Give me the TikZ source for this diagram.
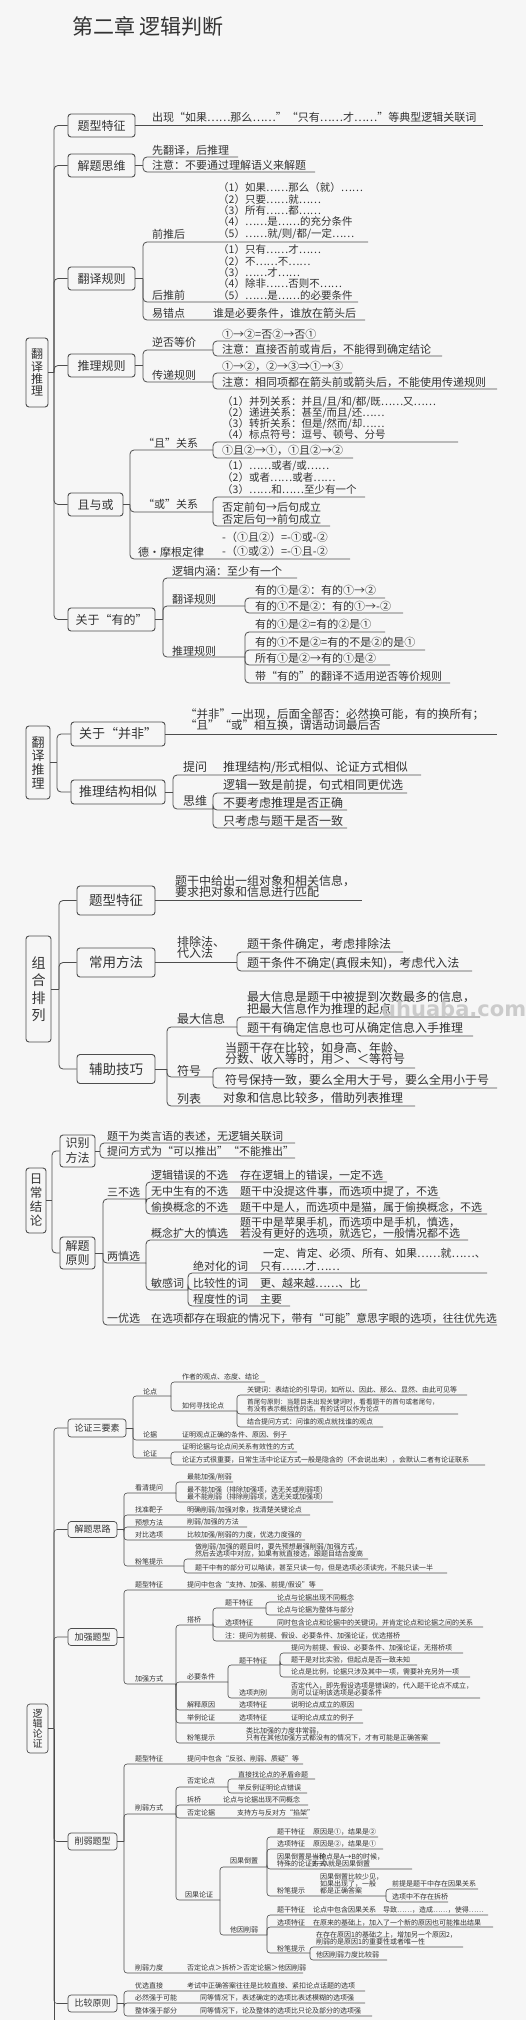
\documentclass[tikz,border=0pt]{standalone}
\usepackage{fontspec}
\setmainfont{Noto Sans CJK SC}
\newfontfamily\wmfont{DejaVu Sans}
\definecolor{bgc}{HTML}{F6F6F6}
\definecolor{ink}{HTML}{333333}
\definecolor{lc}{HTML}{4D4D4D}
\definecolor{wmc}{HTML}{C4C4C4}
\newcounter{mmn}
\newcommand\curfont{\fontsize{11}{11}\selectfont}
\newcommand\mmT[3]{\stepcounter{mmn}\node[tx] (n\arabic{mmn}) at (#1,#2) {#3};}
\newcommand\mmU[3]{\draw[ln] (#1) |- (#3,#2);}
\newcommand\mmJ[3]{\coordinate (#1) at (#2,#3);}
\tikzset{
 tx/.style={anchor=west,inner sep=0pt,text=ink,font=\curfont},
 ln/.style={draw=lc,line width=0.8pt,rounded corners=4pt},
 box/.style={draw=lc,line width=0.9pt,rounded corners=3pt,fill=bgc,text=ink,inner sep=0pt,align=center},
}
\begin{document}
\begin{tikzpicture}[x=1pt,y=-1pt]
\fill[bgc] (0,0) rectangle (526,2020);
\useasboundingbox (0,0) rectangle (526,2020);
\node[anchor=west,inner sep=0pt,text=ink,font=\fontsize{21}{21}\selectfont] (title) at (72,26) {第二章 逻辑判断};

% ================= Section 1
\node[box,minimum width=22pt,minimum height=69pt,font=\fontsize{12}{12.3}\selectfont] (R1) at (37,372.5) {翻\\译\\推\\理};
\node[box,minimum width=67pt,minimum height=23pt,font=\fontsize{12}{12}\selectfont] (B1) at (101.5,125.5) {题型特征};
\node[box,minimum width=67pt,minimum height=23pt,font=\fontsize{12}{12}\selectfont] (B2) at (101.5,165.5) {解题思维};
\node[box,minimum width=67pt,minimum height=23pt,font=\fontsize{12}{12}\selectfont] (B3) at (101.5,278.5) {翻译规则};
\node[box,minimum width=67pt,minimum height=23pt,font=\fontsize{12}{12}\selectfont] (B4) at (101.5,365.5) {推理规则};
\node[box,minimum width=55pt,minimum height=23pt,font=\fontsize{12}{12}\selectfont] (B5) at (95.5,504.5) {且与或};
\node[box,minimum width=87pt,minimum height=23pt,font=\fontsize{12}{12}\selectfont] (B6) at (111.5,619.5) {关于“有的”};
\mmJ{t1}{54}{372.5}
\draw[ln] (R1.east) -- (t1);
\foreach \b in {B1,B2,B3,B4,B5,B6} {\draw[ln] (t1) |- (\b.west);}

\draw[ln] (B1.east) -- (483,125.5);
\mmT{152}{117}{出现“如果……那么……”“只有……才……”等典型逻辑关联词}

\mmJ{j2}{143}{165.5}\draw[ln] (B2.east) -- (j2);
\mmU{j2}{157}{238}\mmT{152}{150}{先翻译，后推理}
\mmU{j2}{172}{315}\mmT{152}{165.5}{注意：不要通过理解语义来解题}

\mmJ{j3}{143}{278.5}\draw[ln] (B3.east) -- (j3);
\mmU{j3}{242}{368}\mmT{152}{234}{前推后}
\renewcommand\curfont{\fontsize{10.5}{10.5}\selectfont}
\mmT{218}{188}{（1）如果……那么（就）……}
\mmT{218}{200}{（2）只要……就……}
\mmT{218}{211}{（3）所有……都……}
\mmT{218}{222}{（4）……是……的充分条件}
\mmT{218}{233.5}{（5）……就/则/都/一定……}
\mmT{218}{250}{（1）只有……才……}
\mmT{218}{262}{（2）不……不……}
\mmT{218}{273}{（3）……才……}
\mmT{218}{284}{（4）除非……否则不……}
\mmT{218}{295.5}{（5）……是……的必要条件}
\renewcommand\curfont{\fontsize{11}{11}\selectfont}
\mmU{j3}{302}{358}\mmT{152}{295.5}{后推前}
\mmU{j3}{320}{365}\mmT{152}{313}{易错点}\mmT{213}{313}{谁是必要条件，谁放在箭头后}

\mmJ{j4}{143}{365.5}\draw[ln] (B4.east) -- (j4);
\mmU{j4}{350}{213}\mmT{152}{342}{逆否等价}
\mmJ{k1}{213}{350}
\mmU{k1}{341}{320}\mmT{222}{334}{①→②=否②→否①}
\mmU{k1}{356}{442}\mmT{222}{349}{注意：直接否前或肯后，不能得到确定结论}
\mmU{j4}{382}{213}\mmT{152}{375}{传递规则}
\mmJ{k2}{213}{382}
\mmU{k2}{373}{352}\mmT{222}{366}{①→②，②→③⇒①→③}
\mmU{k2}{389}{497}\mmT{222}{382}{注意：相同项都在箭头前或箭头后，不能使用传递规则}

\mmJ{j5}{130}{504.5}\draw[ln] (B5.east) -- (j5);
\mmU{j5}{450}{213}\mmT{143}{443}{“且”关系}
\mmJ{k3}{213}{450}
\renewcommand\curfont{\fontsize{10.5}{10.5}\selectfont}
\mmT{222}{402}{（1）并列关系：并且/且/和/都/既……又……}
\mmT{222}{412.5}{（2）递进关系：甚至/而且/还……}
\mmT{222}{423.5}{（3）转折关系：但是/然而/却……}
\mmT{222}{434.5}{（4）标点符号：逗号、顿号、分号}
\mmT{222}{466}{（1）……或者/或……}
\mmT{222}{478}{（2）或者……或者……}
\mmT{222}{489.5}{（3）……和……至少有一个}
\renewcommand\curfont{\fontsize{11}{11}\selectfont}
\mmU{k3}{442}{458}
\mmU{k3}{458}{353}\mmT{222}{450.5}{①且②→①，①且②→②}
\mmU{j5}{512}{213}\mmT{143}{504}{“或”关系}
\mmJ{k4}{213}{512}
\mmU{k4}{497}{365}
\mmU{k4}{526}{330}\mmT{222}{507}{否定前句→后句成立}\mmT{222}{519.5}{否定后句→前句成立}
\mmU{j5}{559}{350}\mmT{138}{552}{德·摩根定律}
\mmT{222}{537}{-（①且②）=-①或-②}\mmT{222}{551}{-（①或②）=-①且-②}

\mmJ{j6}{163}{619.5}\draw[ln] (B6.east) -- (j6);
\mmU{j6}{578}{297}\mmT{172}{571}{逻辑内涵：至少有一个}
\mmU{j6}{606}{245}\mmT{172}{599}{翻译规则}
\mmJ{k5}{245}{606}
\mmU{k5}{598}{385}\mmT{255}{590}{有的①是②：有的①→②}
\mmU{k5}{613}{403}\mmT{255}{606}{有的①不是②：有的①→-②}
\mmU{j6}{657}{245}\mmT{172}{651}{推理规则}
\mmJ{k6}{245}{657}
\mmU{k6}{632}{385}\mmT{255}{624}{有的①是②=有的②是①}
\mmU{k6}{650}{425}\mmT{255}{642}{有的①不是②=有的不是②的是①}
\mmU{k6}{665}{390}\mmT{255}{658.5}{所有①是②→有的①是②}
\mmU{k6}{683}{450}\mmT{255}{676}{带“有的”的翻译不适用逆否等价规则}

% ================= Section 2
\node[box,minimum width=24pt,minimum height=73pt,font=\fontsize{13}{13.7}\selectfont] (R2) at (38,762.5) {翻\\译\\推\\理};
\node[box,minimum width=94pt,minimum height=24pt,font=\fontsize{13}{13}\selectfont] (B7) at (118,734) {关于“并非”};
\node[box,minimum width=94pt,minimum height=24pt,font=\fontsize{13}{13}\selectfont] (B8) at (118,792) {推理结构相似};
\mmJ{t2}{57}{762.5}
\draw[ln] (R2.east) -- (t2);
\draw[ln] (t2) |- (B7.west);
\draw[ln] (t2) |- (B8.west);
\renewcommand\curfont{\fontsize{11.5}{11.5}\selectfont}
\draw[ln] (B7.east) -- (497,734);
\mmT{185}{714.5}{“并非”一出现，后面全部否：必然换可能，有的换所有；}
\mmT{185}{725.5}{“且”“或”相互换，谓语动词最后否}
\renewcommand\curfont{\fontsize{12}{12}\selectfont}
\mmJ{j8}{173}{792}\draw[ln] (B8.east) -- (j8);
\mmU{j8}{775}{421}\mmT{183}{767}{提问}\mmT{223}{767}{推理结构/形式相似、论证方式相似}
\mmU{j8}{809}{213}\mmT{183}{801}{思维}
\mmJ{k7}{213}{809}
\mmU{k7}{793}{407}\mmT{223}{785.5}{逻辑一致是前提，句式相同更优选}
\mmU{k7}{810}{347}\mmT{223}{802.5}{不要考虑推理是否正确}
\mmU{k7}{828}{347}\mmT{223}{820.5}{只考虑与题干是否一致}

% ================= Section 3
\node[box,minimum width=25pt,minimum height=106pt,font=\fontsize{14}{17.5}\selectfont] (R3) at (38.5,989) {组\\合\\排\\列};
\node[box,minimum width=78pt,minimum height=29pt,font=\fontsize{13.5}{13.5}\selectfont] (B9) at (116,900.5) {题型特征};
\node[box,minimum width=78pt,minimum height=29pt,font=\fontsize{13.5}{13.5}\selectfont] (B10) at (116,962.5) {常用方法};
\node[box,minimum width=78pt,minimum height=29pt,font=\fontsize{13.5}{13.5}\selectfont] (B11) at (116,1069) {辅助技巧};
\mmJ{t3}{59}{989}
\draw[ln] (R3.east) -- (t3);
\foreach \b in {B9,B10,B11} {\draw[ln] (t3) |- (\b.west);}
\draw[ln] (B9.east) -- (362,900.5);
\mmT{175}{881}{题干中给出一组对象和相关信息，}
\mmT{175}{892}{要求把对象和信息进行匹配}
\mmJ{j10}{237}{962.5}\draw[ln] (B10.east) -- (j10);
\mmT{177}{942}{排除法、}\mmT{177}{953}{代入法}
\mmU{j10}{952}{403}\mmT{247}{944}{题干条件确定，考虑排除法}
\mmU{j10}{971}{472}\mmT{247}{963.5}{题干条件不确定(真假未知)，考虑代入法}
\mmJ{j11}{167}{1069}\draw[ln] (B11.east) -- (j11);
\mmU{j11}{1027}{237}\mmT{177}{1019}{最大信息}
\mmJ{k8}{237}{1027}
\mmU{k8}{1017}{480}\mmT{247}{997}{最大信息是题干中被提到次数最多的信息，}\mmT{247}{1008.5}{把最大信息作为推理的起点}
\mmU{k8}{1036}{473}\mmT{247}{1028}{题干有确定信息也可从确定信息入手推理}
\mmU{j11}{1077}{213}\mmT{177}{1070.5}{符号}
\mmJ{k9}{213}{1077}
\mmU{k9}{1068}{415}\mmT{225}{1048}{当题干存在比较，如身高、年龄、}\mmT{225}{1059.5}{分数、收入等时，用＞、＜等符号}
\mmU{k9}{1088}{497}\mmT{225}{1080.5}{符号保持一致，要么全用大于号，要么全用小于号}
\mmU{j11}{1106}{415}\mmT{177}{1098.5}{列表}\mmT{223}{1098.5}{对象和信息比较多，借助列表推理}
\node[anchor=west,inner sep=0pt,text=wmc,opacity=0.85,font=\wmfont\bfseries\fontsize{21}{21}\selectfont] (wm) at (381,1009) {uhuaba.com};

% ================= Section 4
\renewcommand\curfont{\fontsize{11}{11}\selectfont}
\node[box,minimum width=20pt,minimum height=65pt,font=\fontsize{12.5}{14}\selectfont] (R4) at (36,1200.5) {日\\常\\结\\论};
\node[box,minimum width=35pt,minimum height=32pt,font=\fontsize{12}{15}\selectfont] (B12) at (77.5,1151) {识别\\方法};
\node[box,minimum width=35pt,minimum height=32pt,font=\fontsize{12}{14.5}\selectfont] (B13) at (77.5,1253) {解题\\原则};
\mmJ{t4}{52}{1200.5}
\draw[ln] (R4.east) -- (t4);
\draw[ln] (t4) |- (B12.west);
\draw[ln] (t4) |- (B13.west);
\mmJ{j12}{100}{1151}\draw[ln] (B12.east) -- (j12);
\mmU{j12}{1143}{295}\mmT{107}{1136}{题干为类言语的表述，无逻辑关联词}
\mmU{j12}{1158}{295}\mmT{107}{1151.5}{提问方式为“可以推出”“不能推出”}
\mmJ{j13}{103}{1253}\draw[ln] (B13.east) -- (j13);
\mmU{j13}{1199}{146}\mmT{107}{1192}{三不选}
\mmJ{k10}{146}{1199}
\mmU{k10}{1182}{387}\mmT{151}{1175.5}{逻辑错误的不选}\mmT{240}{1175.5}{存在逻辑上的错误，一定不选}
\mmU{k10}{1198}{440}\mmT{151}{1191.5}{无中生有的不选}\mmT{240}{1191.5}{题干中没提这件事，而选项中提了，不选}
\mmU{k10}{1214}{487}\mmT{151}{1207.5}{偷换概念的不选}\mmT{240}{1207.5}{题干中是人，而选项中是猫，属于偷换概念，不选}
\mmU{j13}{1263}{146}\mmT{107}{1256}{两慎选}
\mmJ{k11}{146}{1263}
\mmU{k11}{1240}{468}\mmT{151}{1233}{概念扩大的慎选}
\mmT{240}{1222}{题干中是苹果手机，而选项中是手机，慎选，}\mmT{240}{1233}{若没有更好的选项，就选它，一般情况都不选}
\mmU{k11}{1290}{188}\mmT{151}{1283}{敏感词}
\mmJ{k12}{188}{1290}
\mmU{k12}{1273}{487}\mmT{193}{1266.5}{绝对化的词}
\mmT{263}{1253}{一定、肯定、必须、所有、如果……就……、}\mmT{260}{1266.5}{只有……才……}
\mmU{k12}{1290}{367}\mmT{193}{1283}{比较性的词}\mmT{260}{1283}{更、越来越……、比}
\mmU{k12}{1306}{290}\mmT{193}{1299}{程度性的词}\mmT{260}{1299}{主要}
\mmU{j13}{1325}{497}\mmT{107}{1318}{一优选}
\mmT{151}{1318}{\fontsize{10.8}{10.8}\selectfont 在选项都存在瑕疵的情况下，带有“可能”意思字眼的选项，往往优先选}

% ================= Section 5
\tikzset{ln/.style={draw=lc,line width=0.6pt,rounded corners=3pt}}
\renewcommand\curfont{\fontsize{7}{7}\selectfont}
\node[box,line width=0.7pt,minimum width=21pt,minimum height=49pt,font=\fontsize{10}{10}\selectfont] (R5) at (37.5,1728.5) {逻\\辑\\论\\证};
\node[box,line width=0.7pt,minimum width=58pt,minimum height=18pt,font=\fontsize{9}{9}\selectfont] (B14) at (97,1428) {论证三要素};
\node[box,line width=0.7pt,minimum width=49pt,minimum height=16pt,font=\fontsize{9}{9}\selectfont] (B15) at (92.5,1529.5) {解题思路};
\node[box,line width=0.7pt,minimum width=49pt,minimum height=17pt,font=\fontsize{9}{9}\selectfont] (B16) at (92.5,1637) {加强题型};
\node[box,line width=0.7pt,minimum width=49pt,minimum height=17pt,font=\fontsize{9}{9}\selectfont] (B17) at (92.5,1841.5) {削弱题型};
\node[box,line width=0.7pt,minimum width=49pt,minimum height=17pt,font=\fontsize{9}{9}\selectfont] (B18) at (92.5,2003.5) {比较原则};
\mmJ{t5}{54}{1728.5}
\coordinate (tend) at (54,2020);
\draw[ln] (R5.east) -- (t5);
\foreach \b in {B14,B15,B16,B17,B18} {\draw[ln] (t5) |- (\b.west);}
\draw[ln] (t5) -- (tend);

% 论证三要素
\mmJ{j14}{133}{1428}\draw[ln] (B14.east) -- (j14);
\mmU{j14}{1396}{171}\mmT{143}{1392}{论点}
\mmJ{k13}{171}{1396}
\mmU{k13}{1382}{265}\mmT{182}{1377}{作者的观点、态度、结论}
\mmU{k13}{1411}{237}\mmT{182}{1406}{如何寻找论点}
\mmJ{k14}{237}{1411}
\mmU{k14}{1395}{467}\mmT{247}{1390}{关键词：表结论的引导词，如所以、因此、那么、显然、由此可见等}
\mmU{k14}{1414}{458}\mmT{247}{1401.8}{\fontsize{6.6}{6.6}\selectfont 首尾句原则：当题目未出现关键词时，看看题干的首句或者尾句，}\mmT{247}{1409.2}{\fontsize{6.6}{6.6}\selectfont 有没有表示概括性的话，有的话可以作为论点}
\mmU{k14}{1427}{383}\mmT{247}{1422}{结合提问方式：问谁的观点就找谁的观点}
\mmU{j14}{1440}{290}\mmT{143}{1435}{论据}\mmT{182}{1435}{证明观点正确的条件、原因、例子}
\mmU{j14}{1458}{171}\mmT{143}{1454}{论证}
\mmJ{k15}{171}{1458}
\mmU{k15}{1452}{297}\mmT{182}{1447}{证明论据与论点间关系有效性的方式}
\mmU{k15}{1465}{485}\mmT{182}{1460}{论证方式很重要，日常生活中论证方式一般是隐含的（不会说出来），会默认二者有论证联系}

% 解题思路
\mmJ{j15}{124}{1529.5}\draw[ln] (B15.east) -- (j15);
\mmU{j15}{1493}{176}\mmT{135}{1488}{看清提问}
\mmJ{k16}{176}{1493}
\mmU{k16}{1482}{233}\mmT{187}{1477}{最能加强/削弱}
\mmU{k16}{1502}{333}\mmT{187}{1489.5}{最不能加强（排除加强项，选无关或削弱项）}\mmT{187}{1497}{最不能削弱（排除削弱项，选无关或加强项）}
\mmU{j15}{1515}{310}\mmT{135}{1510}{找准靶子}\mmT{187}{1510}{明确削弱/加强对象，找清楚关键论点}
\mmU{j15}{1527}{247}\mmT{135}{1522.5}{预想方法}\mmT{187}{1522.5}{削弱/加强的方法}
\mmU{j15}{1540}{305}\mmT{135}{1535}{对比选项}\mmT{187}{1535}{比较加强/削弱的力度，优选力度强的}
\mmU{j15}{1566}{184}\mmT{135}{1561.5}{粉笔提示}
\mmJ{k17}{184}{1566}
\mmU{k17}{1559}{368}\mmT{195}{1547}{做削弱/加强的题目时，要先预想最强削弱/加强方式，}\mmT{195}{1554}{然后去选项中对应，如果有就直接选，跟题目结合度高}
\mmU{k17}{1573}{447}\mmT{195}{1568}{题干中有的部分可以略读，甚至只读一句，但是选项必须读完，不能只读一半}

% 加强题型
\mmJ{j16}{124}{1637}\draw[ln] (B16.east) -- (j16);
\mmU{j16}{1590}{323}\mmT{135}{1585}{题型特征}\mmT{187}{1585}{提问中包含“支持、加强、前提/假设”等}
\mmU{j16}{1684}{176}\mmT{135}{1679}{加强方式}
\mmJ{k18}{176}{1684}
\mmU{k18}{1625}{213}\mmT{187}{1619.5}{搭桥}
\mmJ{k19}{213}{1625}
\mmU{k19}{1608}{266}\mmT{225}{1603}{题干特征}
\mmJ{k20}{266}{1608}
\mmU{k20}{1602}{352}\mmT{277}{1597.5}{论点与论据出现不同概念}
\mmU{k20}{1615}{352}\mmT{277}{1610}{论点与论据为整体与部分}
\mmU{k19}{1627}{483}\mmT{225}{1622.5}{选项特征}\mmT{277}{1622.5}{同时包含论点和论据中的关键词，并肯定论点和论据之间的关系}
\mmU{k19}{1641}{410}\mmT{225}{1636}{注：提问为前提、假设、必要条件、加强论证，优选搭桥}
\mmU{k18}{1682}{228}\mmT{187}{1677}{必要条件}
\mmJ{k21}{228}{1682}
\mmU{k21}{1665}{280}\mmT{239}{1660.5}{题干特征}
\mmJ{k22}{280}{1665}
\mmU{k22}{1653}{463}\mmT{291}{1648}{提问为前提、假设、必要条件、加强论证，无搭桥项}
\mmU{k22}{1665}{417}\mmT{291}{1660}{题干是对比实验，但起点是否一致未知}
\mmU{k22}{1677}{470}\mmT{291}{1672}{论点是比例，论据只涉及其中一项，需要补充另外一项}
\mmU{k21}{1698}{480}\mmT{239}{1693}{选项判别}
\mmT{291}{1685.5}{否定代入，即先假设选项是错误的，代入题干论点不成立，}\mmT{291}{1692.5}{则可以证明该选项是必要条件}
\mmU{k18}{1710}{362}\mmT{187}{1705}{解释原因}\mmT{239}{1705}{选项特征}\mmT{291}{1705}{说明论点成立的原因}
\mmU{k18}{1723}{363}\mmT{187}{1718}{举例论证}\mmT{239}{1718}{选项特征}\mmT{291}{1718}{证明论点成立的例子}
\mmU{k18}{1743}{440}\mmT{187}{1738}{粉笔提示}
\mmT{246}{1731}{类比加强的力度非常弱，}\mmT{246}{1738}{只有在其他加强方式都没有的情况下，才有可能是正确答案}

% 削弱题型
\mmJ{j17}{124}{1841.5}\draw[ln] (B17.east) -- (j17);
\mmU{j17}{1764}{303}\mmT{135}{1759}{题型特征}\mmT{187}{1759}{提问中包含“反驳、削弱、质疑”等}
\mmU{j17}{1814}{176}\mmT{135}{1808}{削弱方式}
\mmJ{k23}{176}{1814}
\mmU{k23}{1787}{228}\mmT{187}{1781}{否定论点}
\mmJ{k24}{228}{1787}
\mmU{k24}{1779}{315}\mmT{238}{1774.5}{直接找论点的矛盾命题}
\mmU{k24}{1793}{307}\mmT{238}{1788}{举反例证明论点错误}
\mmU{k23}{1805}{308}\mmT{187}{1800}{拆桥}\mmT{223}{1800}{论点与论据出现不同概念}
\mmU{k23}{1818}{308}\mmT{187}{1813}{否定论据}\mmT{237}{1813}{支持方与反对方“掐架”}
\mmU{k23}{1900}{220}\mmT{185}{1895}{因果论证}
\mmJ{k25}{220}{1900}
\mmU{k25}{1867}{267}\mmT{230}{1861}{因果倒置}
\mmJ{k26}{267}{1867}
\mmU{k26}{1837}{378}\mmT{277}{1832}{题干特征}\mmT{313}{1832}{原因是①，结果是②}
\mmU{k26}{1849}{383}\mmT{277}{1844}{选项特征}\mmT{313}{1844}{原因是②，结果是①}
\mmU{k26}{1869}{412}\mmT{277}{1857}{因果倒置是一种}\mmT{277}{1864}{特殊的论证方式}\mmT{312}{1857}{当论点是A→B的时候，}\mmT{312}{1864}{B→A就是因果倒置}
\mmU{k26}{1896}{386}\mmT{277}{1891}{粉笔提示}
\mmT{320}{1877}{因果倒置比较少见，}\mmT{320}{1884}{如果出现了，一般}\mmT{320}{1891}{都是正确答案}
\mmJ{k27}{386}{1896}
\mmU{k27}{1889}{478}\mmT{392}{1884}{前提是题干中存在因果关系}
\mmU{k27}{1902}{448}\mmT{392}{1897}{选项中不存在拆桥}
\mmU{k25}{1935}{267}\mmT{230}{1930}{他因削弱}
\mmJ{k28}{267}{1935}
\mmU{k28}{1915}{488}\mmT{277}{1910}{题干特征}\mmT{313}{1910}{论点中包含因果关系}\mmT{383}{1910}{导致……，造成……，使得……}
\mmU{k28}{1927}{493}\mmT{277}{1922.5}{选项特征}\mmT{313}{1922.5}{在原来的基础上，加入了一个新的原因也可能推出结果}
\mmU{k28}{1953}{310}\mmT{277}{1948.5}{粉笔提示}
\mmJ{k29}{310}{1953}
\mmU{k29}{1947}{463}\mmT{316}{1935}{在存在原因1的基础之上，增加另一个原因2，}\mmT{316}{1942}{削弱的是原因1的重要性或者唯一性}
\mmU{k29}{1960}{387}\mmT{316}{1955}{他因削弱力度比较弱}
\mmU{j17}{1973}{303}\mmT{135}{1968}{削弱力度}\mmT{187}{1968}{否定论点＞拆桥＞否定论据＞他因削弱}

% 比较原则
\mmJ{j18}{124}{2003.5}\draw[ln] (B18.east) -- (j18);
\mmU{j18}{1991}{365}\mmT{135}{1986}{优选直接}\mmT{187}{1986}{考试中正确答案往往是比较直接、紧扣论点话题的选项}
\mmU{j18}{2003}{365}\mmT{135}{1998}{必然强于可能}\mmT{200}{1998}{同等情况下，表述确定的选项比表述模糊的选项强}
\mmU{j18}{2016}{372}\mmT{135}{2011}{整体强于部分}\mmT{200}{2011}{同等情况下，论及整体的选项比只论及部分的选项强}
\end{tikzpicture}
\end{document}
